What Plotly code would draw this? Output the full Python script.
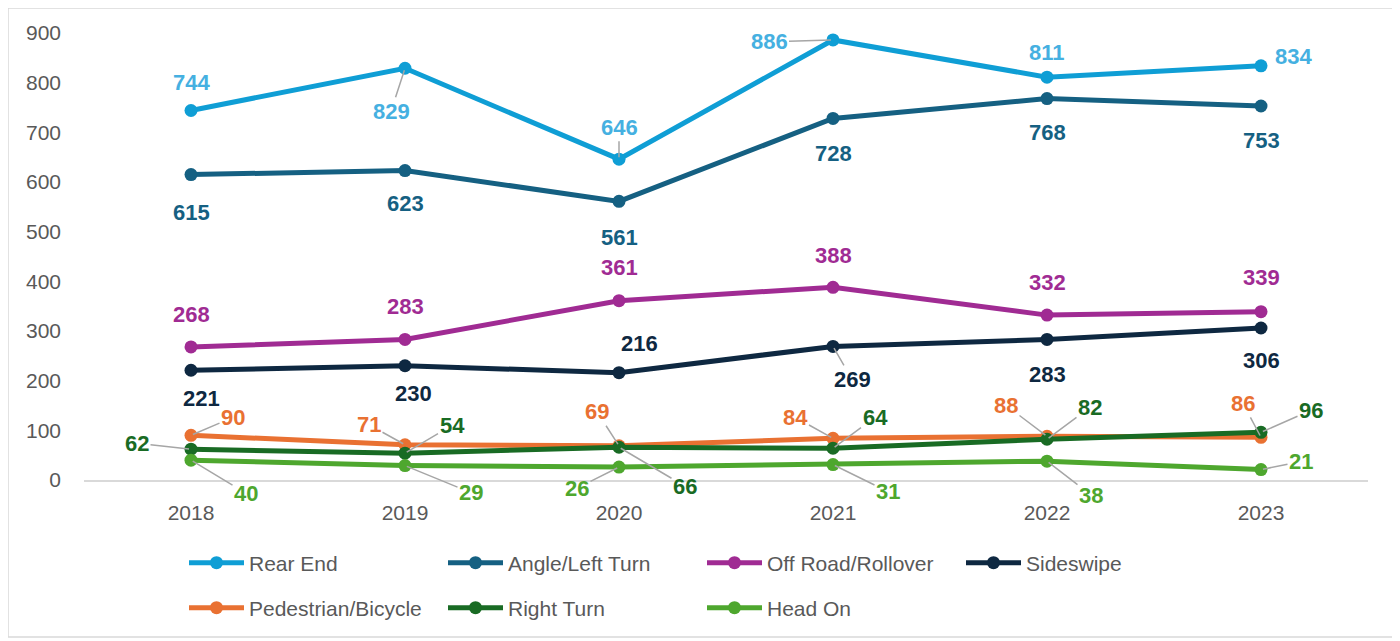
import plotly.graph_objects as go

years = ["2018", "2019", "2020", "2021", "2022", "2023"]

rear_end = [744, 829, 646, 886, 811, 834]
angle_left = [615, 623, 561, 728, 768, 753]
off_road = [268, 283, 361, 388, 332, 339]
sideswipe = [221, 230, 216, 269, 283, 306]
pedestrian = [90, 71, 69, 84, 88, 86]
right_turn = [62, 54, 66, 64, 82, 96]
head_on = [40, 29, 26, 31, 38, 21]

y_ticks = [0, 100, 200, 300, 400, 500, 600, 700, 800, 900]

series = [
    ("Rear End", rear_end, "#0F9ED5", "#45B0E1", "legend"),
    ("Angle/Left Turn", angle_left, "#156082", "#156082", "legend"),
    ("Off Road/Rollover", off_road, "#A02B93", "#A02B93", "legend"),
    ("Sideswipe", sideswipe, "#0E2841", "#0E2841", "legend"),
    ("Pedestrian/Bicycle", pedestrian, "#E97132", "#E97132", "legend2"),
    ("Right Turn", right_turn, "#196B24", "#196B24", "legend2"),
    ("Head On", head_on, "#4EA72E", "#4EA72E", "legend2"),
]

# label offsets in pixels (dx, dy) and whether a leader line is drawn
label_layout = {
    "Rear End": [(0, -28, 0), (-14, 43, 1), (0, -32, 1), (-64, 2, 1), (0, -25, 0), (32, -9, 0)],
    "Angle/Left Turn": [(0, 38, 0), (0, 33, 0), (0, 36, 0), (0, 35, 0), (0, 34, 0), (0, 34, 0)],
    "Off Road/Rollover": [(0, -32, 0), (0, -33, 0), (0, -33, 0), (0, -32, 0), (0, -33, 0), (0, -34, 0)],
    "Sideswipe": [(10, 28, 0), (8, 28, 0), (20, -29, 0), (19, 33, 1), (0, 35, 0), (0, 32, 0)],
    "Pedestrian/Bicycle": [(42, -18, 1), (-36, -20, 1), (-22, -34, 1), (-38, -21, 1), (-41, -31, 1), (-18, -34, 1)],
    "Right Turn": [(-54, -6, 1), (47, -28, 1), (66, 39, 1), (42, -31, 1), (43, -32, 1), (50, -22, 1)],
    "Head On": [(55, 33, 1), (66, 27, 1), (-42, 21, 1), (55, 27, 1), (44, 34, 1), (40, -8, 1)],
}

FONT = "Liberation Sans, Arial, sans-serif"

# page is offset by the default 8px body margin
OFF = 8
W, H = 1400 - OFF, 641 - OFF
L, R, T, B = 84 - OFF, 32, 33 - OFF, 161
pw, ph = W - L - R, H - T - B


def px_x(x):
    return (x - OFF - L) / pw


def px_y(y):
    return (H - B - (y - OFF)) / ph


fig = go.Figure()
for name, vals, color, lcolor, leg in series:
    fig.add_trace(go.Scatter(
        x=years, y=vals, name=name, mode="lines+markers",
        line=dict(color=color, width=5),
        marker=dict(color=color, size=13),
        legend=leg,
    ))

for name, vals, color, lcolor, leg in series:
    for i, v in enumerate(vals):
        dx, dy, lead = label_layout[name][i]
        fig.add_annotation(
            x=i, y=v, xref="x", yref="y", text="<b>" + str(v) + "</b>",
            showarrow=True, ax=dx, ay=dy, axref="pixel", ayref="pixel",
            arrowhead=0, arrowwidth=1.5, standoff=2,
            arrowcolor="#A6A6A6" if lead else "rgba(255,255,255,0)",
            font=dict(family=FONT, size=22, color=lcolor),
        )

fig.add_shape(type="rect", xref="paper", yref="paper",
              x0=px_x(8), x1=px_x(1396), y0=px_y(8), y1=px_y(637),
              line=dict(color="#D9D9D9", width=1.5), fillcolor="rgba(0,0,0,0)")

legend_style = dict(
    orientation="h", xanchor="left", yanchor="middle",
    entrywidth=189, entrywidthmode="pixels", itemwidth=55,
    font=dict(family=FONT, size=21, color="#595959"),
    bgcolor="rgba(0,0,0,0)",
)

fig.update_layout(
    width=W, height=H,
    margin=dict(l=L, r=R, t=T, b=B, autoexpand=False),
    paper_bgcolor="white", plot_bgcolor="white",
    font=dict(family=FONT, size=21, color="#595959"),
    showlegend=True,
    legend=dict(x=px_x(184), y=px_y(563), **legend_style),
    legend2=dict(x=px_x(184), y=px_y(608), **legend_style),
    xaxis=dict(
        type="category", range=[-0.5, 5.5], showgrid=False, showline=True,
        linecolor="#D9D9D9", linewidth=1.5, ticks="", ticklabelstandoff=13,
        tickfont=dict(size=21, color="#595959"), zeroline=False,
    ),
    yaxis=dict(
        range=[0, 900], tickvals=y_ticks, showgrid=False, showline=False,
        zeroline=False, ticks="", ticklabelstandoff=22,
        tickfont=dict(size=21, color="#595959"),
    ),
)

fig.write_html("out.html")
